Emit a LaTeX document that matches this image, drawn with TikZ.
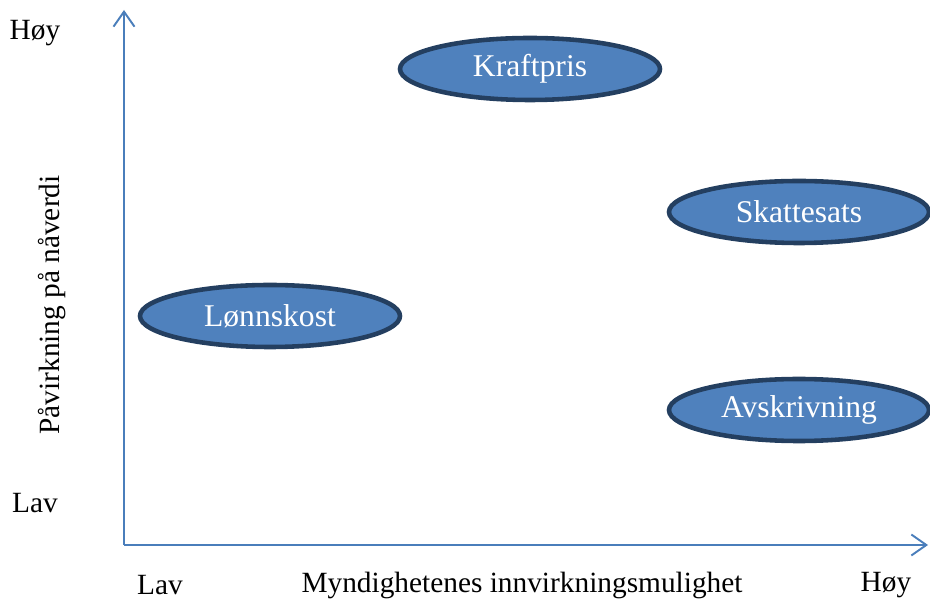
\documentclass[tikz,border=0pt]{standalone}
\usepackage{fontspec}
\setmainfont{Liberation Serif}
\usepackage{tikz}
\usetikzlibrary{shapes,arrows.meta}
\definecolor{axisblue}{HTML}{4A7EBB}
\definecolor{ovalfill}{HTML}{4F81BD}
\definecolor{ovaledge}{HTML}{243F60}
\tikzstyle{oval} = [ellipse, draw=ovaledge, fill=ovalfill, line width=2.6pt, minimum width=5.2cm, minimum height=1.24cm, inner sep=0pt, text=white, font=\fontsize{18}{21}\selectfont]
\tikzstyle{axis} = [draw=axisblue, line width=1.1pt, -{Straight Barb[length=3mm,width=4.2mm]}]
\tikzstyle{lbl} = [font=\fontsize{16.7}{20}\selectfont]

\begin{document}
\begin{tikzpicture}
   \useasboundingbox (0,0) rectangle (18.6,12.04);
   \coordinate (o) at (2.48,1.14);
   \coordinate (ytop) at (2.48,11.84);
   \coordinate (xend) at (18.56,1.14);
   \draw[axis] (o) -- (ytop);
   \draw[axis] (o) -- (xend);
   % ellipses
   \node[oval] (kraft)  at (10.6,10.66) {Kraftpris};
   \node[oval] (skatt)  at (15.98,7.8)  {Skattesats};
   \node[oval] (lonn)   at (5.4,5.72)   {Lønnskost};
   \node[oval] (avskr)  at (15.98,3.84) {Avskrivning};
   % axis labels
   \node[lbl] (yhigh) at (0.7,11.38) {Høy};
   \node[lbl] (ylow)  at (0.7,1.98)  {Lav};
   \node[lbl] (xlow)  at (3.2,0.34)  {Lav};
   \node[lbl] (xtitle) at (10.44,0.34) {Myndighetenes innvirkningsmulighet};
   \node[lbl] (xhigh) at (17.72,0.34) {Høy};
   \node[lbl, rotate=90] (ytitle) at (1.04,5.94) {Påvirkning på nåverdi};
\end{tikzpicture}
\end{document}
